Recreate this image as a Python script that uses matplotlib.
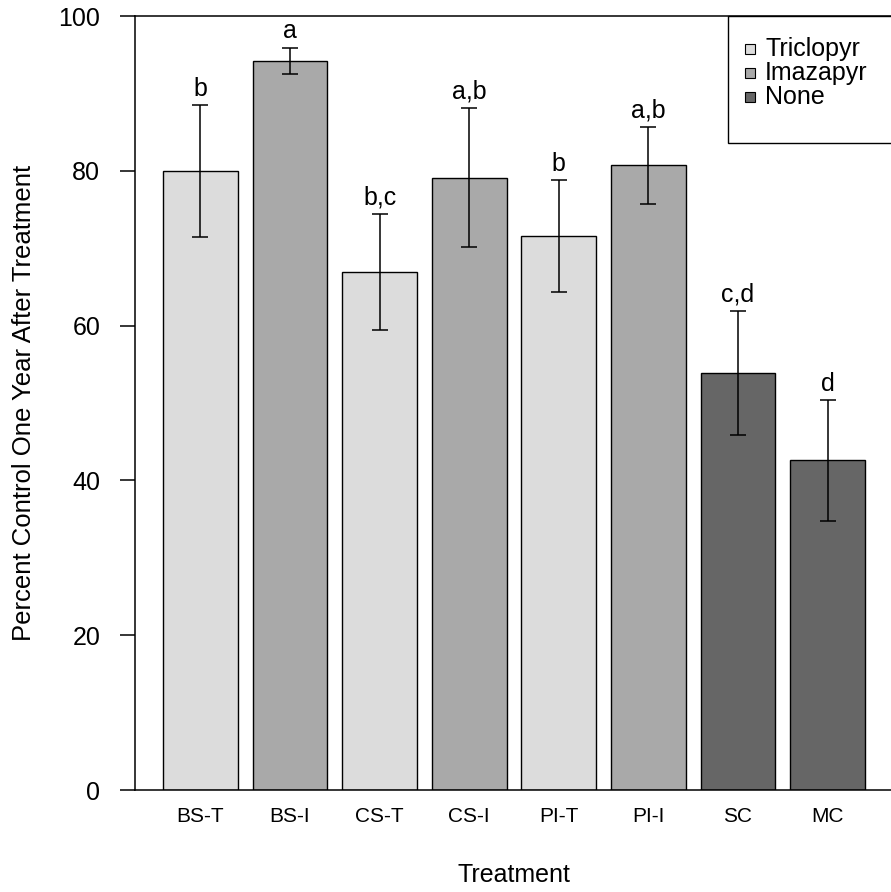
import numpy as np
import matplotlib.pyplot as plt
from matplotlib.patches import Rectangle

plt.rcParams.update({
    'font.family': ['Liberation Sans', 'DejaVu Sans'],
    'axes.linewidth': 1.1,
})

# data
treatments = ["BS-T", "BS-I", "CS-T", "CS-I", "PI-T", "PI-I", "SC", "MC"]
herbicide = ["Triclopyr", "Imazapyr", "Triclopyr", "Imazapyr",
             "Triclopyr", "Imazapyr", "None", "None"]
means = [80.0, 94.2, 66.9, 79.1, 71.6, 80.7, 53.9, 42.6]
errors = [8.5, 1.7, 7.5, 9.0, 7.2, 5.0, 8.0, 7.8]
letters = ["b", "a", "b,c", "a,b", "b", "a,b", "c,d", "d"]

fills = {"Triclopyr": "#dcdcdc", "Imazapyr": "#a9a9a9", "None": "#666666"}

W, H = 891, 892
fig = plt.figure(figsize=(W / 100, H / 100), dpi=100)
ax = fig.add_axes([135 / W, 102 / H, 758 / W, 774 / H])


def px(x, y):
    # pixel position (from top-left) -> figure fraction
    return x / W, 1 - y / H


# R barplot style: width 1, space 0.2
x = 0.7 + 1.2 * np.arange(len(treatments))
colors = [fills[h] for h in herbicide]
ax.bar(x, means, width=1.0, color=colors, edgecolor="black", linewidth=1.0, zorder=2)
ax.errorbar(x, means, yerr=errors, fmt="none", ecolor="black",
            elinewidth=1.1, capsize=6, capthick=1.1, zorder=3)

for xi, m, e, lab in zip(x, means, errors, letters):
    ax.text(xi, m + e + 1.2, lab, ha="center", va="baseline", fontsize=18)

ax.set_xlim(-0.176, 9.976)
ax.set_ylim(0, 100)
ax.set_yticks([0, 20, 40, 60, 80, 100])
ax.tick_params(axis="y", direction="out", length=11, width=1.1, pad=14, labelsize=18)
ax.set_xticks(x)
ax.set_xticklabels(treatments)
ax.tick_params(axis="x", length=0, pad=12, labelsize=15)

ax.set_xlabel("Treatment", fontsize=18, va="top")
ax.xaxis.set_label_coords(0.5, -0.094)
ax.set_ylabel("Percent Control One Year After Treatment", fontsize=18.5)
ax.yaxis.set_label_coords(-0.13, 0.5)

# legend box in the top right, drawn like R's legend()
x0, y0 = px(728, 143)
x1, y1 = px(905, 16)
fig.patches.append(Rectangle((x0, y0), x1 - x0, y1 - y0, transform=fig.transFigure,
                             facecolor="white", edgecolor="black", linewidth=1.0,
                             zorder=5))
sq = 10
for i, (name, col) in enumerate(fills.items()):
    cy = 49 + 24 * i
    sx, sy = px(745, cy + sq / 2)
    fig.patches.append(Rectangle((sx, sy), sq / W, sq / H, transform=fig.transFigure,
                                 facecolor=col, edgecolor="black", linewidth=0.8,
                                 zorder=6))
    tx, ty = px(765, cy)
    fig.text(tx, ty, name, ha="left", va="center", fontsize=18, zorder=6)

fig.savefig("out.png", dpi=100)
